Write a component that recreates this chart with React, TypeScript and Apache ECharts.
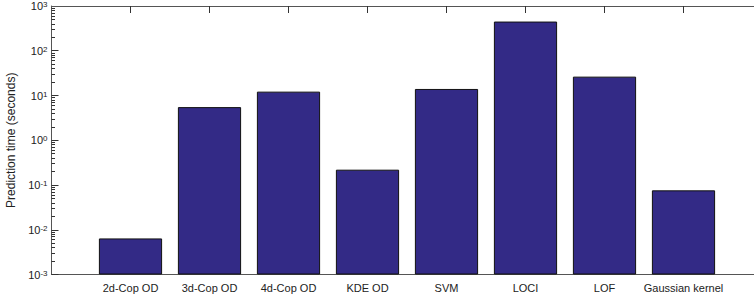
import React, { useEffect, useRef } from "react";
import * as echarts from "echarts";

const categories = ["2d-Cop OD", "3d-Cop OD", "4d-Cop OD", "KDE OD", "SVM", "LOCI", "LOF", "Gaussian kernel"];
const predictionTimes = [0.0064, 5.5, 12.2, 0.22, 14.0, 449, 26.4, 0.076];
const yMin = 0.001;
const yMax = 1000;
const minorMultipliers = [2, 3, 4, 5, 6, 7, 8, 9];
const decadeExponents = [-3, -2, -1, 0, 1, 2];

const AXIS_COLOR = "#555";
const TEXT_COLOR = "#222";
const FONT = "'Liberation Sans', Arial, Helvetica, sans-serif";

export default function App() {
  const ref = useRef<HTMLDivElement>(null);
  useEffect(() => {
    if (!ref.current) return;
    const chart = echarts.init(ref.current, undefined, { renderer: "svg" });
    const padded = ["", ...categories, ""];
    const data = ["-", ...predictionTimes, "-"];
    const minorExps: number[] = [];
    decadeExponents.forEach((e) =>
      minorMultipliers.forEach((m) => minorExps.push(Math.log10(m) + e))
    );
    chart.setOption({
      animation: false,
      textStyle: { fontFamily: FONT },
      grid: {
        left: 51.5,
        top: 6,
        width: 711,
        bottom: 21.5,
        containLabel: false,
        outerBoundsMode: "none",
      },
      xAxis: [
        {
          type: "category",
          data: padded,
          boundaryGap: false,
          position: "bottom",
          axisLine: { show: true, onZero: false, lineStyle: { color: AXIS_COLOR, width: 1 } },
          axisTick: { show: false },
          axisLabel: {
            interval: 0,
            margin: 8,
            fontSize: 11,
            color: TEXT_COLOR,
            fontFamily: FONT,
          },
          splitLine: { show: false },
        },
        {
          type: "category",
          data: padded,
          boundaryGap: false,
          position: "top",
          z: 50,
          axisLine: { show: true, onZero: false, lineStyle: { color: AXIS_COLOR, width: 1.2 } },
          axisTick: {
            show: true,
            inside: true,
            length: 7,
            interval: (i: number) => i > 0 && i < padded.length - 1,
            lineStyle: { color: "#333", width: 1 },
          },
          axisLabel: { show: false },
          splitLine: { show: false },
        },
      ],
      yAxis: [
        {
          type: "log",
          logBase: 10,
          min: yMin,
          max: yMax,
          startValue: yMin,
          splitNumber: 6,
          name: "Prediction time (seconds)",
          nameLocation: "middle",
          nameGap: 35,
          nameTextStyle: { fontSize: 12, color: TEXT_COLOR, fontFamily: FONT },
          axisLine: { show: true, onZero: false, lineStyle: { color: AXIS_COLOR, width: 1 } },
          axisTick: { show: true, inside: true, length: 7, lineStyle: { color: "#333", width: 1 } },
          splitLine: { show: false },
          axisLabel: {
            margin: 4,
            color: TEXT_COLOR,
            fontFamily: FONT,
            formatter: (v: number) => `{b|10}{e|${Math.round(Math.log10(v))}}`,
            rich: {
              b: { fontSize: 11, lineHeight: 11, verticalAlign: "bottom", color: TEXT_COLOR, fontFamily: FONT },
              e: { fontSize: 8, lineHeight: 8, padding: [0, 0, 8, 0], verticalAlign: "top", color: TEXT_COLOR, fontFamily: FONT },
            },
          },
        },
        {
          type: "value",
          min: -3,
          max: 3,
          position: "left",
          axisLine: { show: false, onZero: false },
          axisLabel: { show: false },
          splitLine: { show: false },
          axisTick: {
            show: true,
            inside: true,
            length: 3.5,
            customValues: minorExps,
            lineStyle: { color: "#333", width: 1 },
          },
        },
      ],
      series: [
        {
          type: "bar",
          xAxisIndex: 0,
          yAxisIndex: 0,
          data,
          barWidth: "80%",
          itemStyle: { color: "#332a86", borderColor: "#111", borderWidth: 1 },
        },
      ],
    });
    return () => chart.dispose();
  }, []);
  return (
    <div
      ref={ref}
      style={{ position: "fixed", left: 0, top: 0, width: 754, height: 296, background: "#fff" }}
    />
  );
}
